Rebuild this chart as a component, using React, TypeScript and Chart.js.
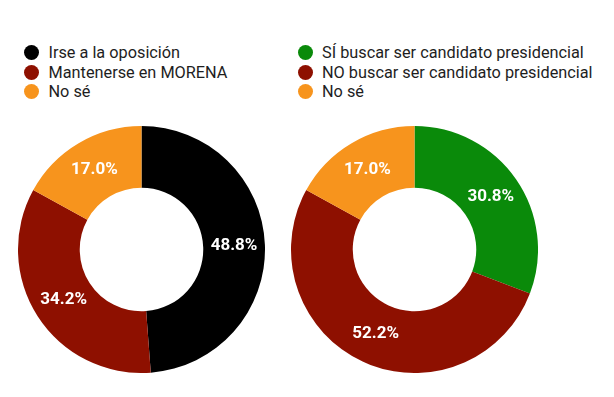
import React, { useEffect, useRef } from "react";
import { Chart, registerables } from "chart.js";

Chart.register(...registerables);

const leftLabels = ["Irse a la oposición", "Mantenerse en MORENA", "No sé"];
const leftValues = [48.8, 34.2, 17.0];
const leftColors = ["#000000", "#8e1000", "#f7941d"];

const rightLabels = [
  "SÍ buscar ser candidato presidencial",
  "NO buscar ser candidato presidencial",
  "No sé",
];
const rightValues = [30.8, 52.2, 17.0];
const rightColors = ["#0a8a0a", "#8e1000", "#f7941d"];

const sliceLabelPlugin = {
  id: "sliceLabels",
  afterDatasetsDraw(chart: any) {
    const ctx = chart.ctx;
    const meta = chart.getDatasetMeta(0);
    const data = chart.data.datasets[0].data as number[];
    ctx.save();
    ctx.font = "bold 17px Roboto";
    ctx.fillStyle = "#ffffff";
    ctx.textAlign = "center";
    ctx.textBaseline = "middle";
    meta.data.forEach((arc: any, i: number) => {
      const p = arc.tooltipPosition(false);
      ctx.fillText(data[i].toFixed(1) + "%", p.x, p.y);
    });
    ctx.restore();
  },
};

function Donut(props: { labels: string[]; values: number[]; colors: string[]; left: number; top: number; size: number }) {
  const ref = useRef<HTMLCanvasElement | null>(null);
  useEffect(() => {
    const chart = new Chart(ref.current as HTMLCanvasElement, {
      type: "doughnut",
      data: {
        labels: props.labels,
        datasets: [
          {
            data: props.values,
            backgroundColor: props.colors,
            borderWidth: 0,
          },
        ],
      },
      options: {
        responsive: false,
        animation: false,
        cutout: "50%",
        layout: { padding: 0 },
        plugins: {
          legend: { display: false },
          tooltip: { enabled: false },
        },
      },
      plugins: [sliceLabelPlugin],
    } as any);
    return () => chart.destroy();
  }, []);
  return (
    <canvas
      ref={ref}
      width={props.size}
      height={props.size}
      style={{ position: "absolute", left: props.left, top: props.top, width: props.size, height: props.size }}
    />
  );
}

function Legend(props: { labels: string[]; colors: string[]; left: number; top: number; gap: number }) {
  return (
    <div
      style={{
        position: "absolute",
        left: props.left,
        top: props.top,
        fontFamily: "Roboto, sans-serif",
        fontSize: 16.3,
        color: "#1e1e1e",
      }}
    >
      {props.labels.map((l, i) => (
        <div key={i} style={{ display: "flex", alignItems: "center", height: 19.5, whiteSpace: "nowrap" }}>
          <span
            style={{
              display: "inline-block",
              width: 15,
              height: 15,
              borderRadius: "50%",
              background: props.colors[i],
              marginRight: props.gap,
              flex: "none",
            }}
          />
          <span>{l}</span>
        </div>
      ))}
    </div>
  );
}

export default function App() {
  return (
    <div style={{ position: "absolute", left: 0, top: 0, width: 614, height: 397, background: "#ffffff", overflow: "hidden" }}>
      <Legend labels={leftLabels} colors={leftColors} left={24} top={43} gap={9.5} />
      <Legend labels={rightLabels} colors={rightColors} left={298} top={43} gap={9} />
      <Donut labels={leftLabels} values={leftValues} colors={leftColors} left={18} top={126} size={247} />
      <Donut labels={rightLabels} values={rightValues} colors={rightColors} left={291} top={126} size={247} />
    </div>
  );
}
